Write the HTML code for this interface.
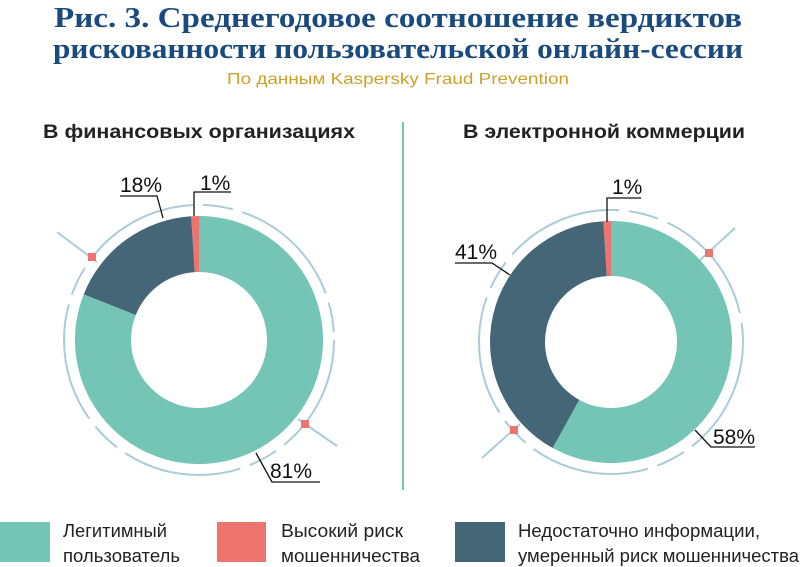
<!DOCTYPE html>
<html><head><meta charset="utf-8"><style>
html,body{margin:0;padding:0;background:#fff;width:800px;height:567px;overflow:hidden}
svg{display:block}
.t{font-family:"Liberation Serif",serif;font-weight:bold;fill:#1b4a7e;font-size:29px}
.n{font-family:"Liberation Sans Narrow","Liberation Sans",sans-serif}
</style></head><body>
<svg id="c" width="800" height="567" viewBox="0 0 800 567">
<text class="t" x="398" y="27" text-anchor="middle" textLength="688" lengthAdjust="spacingAndGlyphs">Рис. 3. Среднегодовое соотношение вердиктов</text>
<text class="t" x="398" y="58" text-anchor="middle" textLength="690" lengthAdjust="spacingAndGlyphs">рискованности пользовательской онлайн-сессии</text>
<text class="n" x="398" y="84" text-anchor="middle" font-size="16" fill="#c9a227" textLength="342" lengthAdjust="spacingAndGlyphs">По данным Kaspersky Fraud Prevention</text>
<text class="n" x="43" y="138" font-size="19" font-weight="bold" fill="#222" textLength="312" lengthAdjust="spacingAndGlyphs">В финансовых организациях</text>
<text class="n" x="463" y="138" font-size="19" font-weight="bold" fill="#222" textLength="282" lengthAdjust="spacingAndGlyphs">В электронной коммерции</text>
<line x1="403" y1="122" x2="403" y2="490" stroke="#3fb79a" stroke-width="1.5"/>
<g id="donuts"></g>
<g>
<rect x="0" y="522" width="50" height="40" fill="#75c5b7"/>
<text class="n" font-size="18" fill="#222"><tspan x="63" y="537" textLength="104" lengthAdjust="spacingAndGlyphs">Легитимный</tspan><tspan x="63" y="562" textLength="117" lengthAdjust="spacingAndGlyphs">пользователь</tspan></text>
<rect x="217" y="522" width="49" height="40" fill="#ef736f"/>
<text class="n" font-size="18" fill="#222"><tspan x="281" y="537" textLength="122" lengthAdjust="spacingAndGlyphs">Высокий риск</tspan><tspan x="281" y="562" textLength="139" lengthAdjust="spacingAndGlyphs">мошенничества</tspan></text>
<rect x="455" y="522" width="50" height="40" fill="#456677"/>
<text class="n" font-size="18" fill="#222"><tspan x="518" y="537" textLength="242" lengthAdjust="spacingAndGlyphs">Недостаточно информации,</tspan><tspan x="518" y="562" textLength="281" lengthAdjust="spacingAndGlyphs">умеренный риск мошенничества</tspan></text>
</g>
</svg>
<script>
// order clockwise from 12 o'clock: legit, insufficient, high-risk
const categories = ["legit", "insufficient", "high-risk"];
const financeValues = [81, 18, 1];
const ecommerceValues = [58, 41, 1];
const valueLabels = ["%"];
const colors = ["#75c5b7", "#456677", "#ef736f"];
const NS = "http://www.w3.org/2000/svg";
const g = document.getElementById("donuts");
function mk(tag, attrs) { const e = document.createElementNS(NS, tag); for (const k in attrs) e.setAttribute(k, attrs[k]); return e; }
function pt(cx, cy, r, a) { return [cx + r * Math.sin(a), cy - r * Math.cos(a)]; }
function arc(cx, cy, r0, r1, a0, a1) {
  const L = a1 - a0 > Math.PI ? 1 : 0;
  const p1 = pt(cx, cy, r1, a0), p2 = pt(cx, cy, r1, a1), p3 = pt(cx, cy, r0, a1), p4 = pt(cx, cy, r0, a0);
  return `M${p1}L${p1}A${r1},${r1} 0 ${L} 1 ${p2}L${p3}A${r0},${r0} 0 ${L} 0 ${p4}Z`;
}
function donut(name, values, cx, cy, r0, r1, ringR, deco, labels) {
  const grp = mk("g", {});
  
  
  g.appendChild(grp);
  const ring = mk("circle", { cx, cy, r: ringR, fill: "none", stroke: "#a9ccd9", "stroke-width": 2, "stroke-dasharray": "120 10 30 10" });
  
  
  grp.appendChild(ring);
  deco.forEach(d => {
    const ln = mk("line", { x1: d[0], y1: d[1], x2: d[2], y2: d[3], stroke: "#a9ccd9", "stroke-width": 2 });
    
    
    grp.appendChild(ln);
    const sq = mk("rect", { x: d[4] - 4, y: d[5] - 4, width: 8, height: 8, fill: "#ef736f" });
    
    
    grp.appendChild(sq);
  });
  const total = values.reduce((a, b) => a + b, 0);
  let acc = 0;
  values.forEach((v, i) => {
    const a0 = acc / total * 2 * Math.PI; acc += v;
    const a1 = acc / total * 2 * Math.PI;
    const p = mk("path", { d: arc(cx, cy, r0, r1, a0, a1), fill: colors[i] });
    
    
    grp.appendChild(p);
  });
  labels.forEach(l => {
    const i = l.i;
    const pl = mk("polyline", { points: l.pts, fill: "none", stroke: "#111", "stroke-width": 1.3 });
    
    
    grp.appendChild(pl);
    const t = mk("text", { x: l.x, y: l.y, "font-size": 21, fill: "#111", "font-family": "Liberation Sans Narrow, Liberation Sans, sans-serif" });
    t.textContent = values[i] + valueLabels[0];
    
    
    grp.appendChild(t);
  });
}
donut("donut-finance", financeValues, 199, 340, 68, 124, 135,
  [[57, 232, 97, 262, 92, 257], [298, 419, 337, 446, 305, 424]],
  [{ i: 1, x: 120, y: 192, pts: "120,196 157,196 163,218" },
   { i: 2, x: 200, y: 190, pts: "231,192 194,192 194,216" },
   { i: 0, x: 270, y: 478, pts: "320,482 272,482 256,453" }]);
donut("donut-ecommerce", ecommerceValues, 611, 342, 66, 121, 132,
  [[735, 228, 700, 260, 709, 253], [482, 458, 520, 424, 514, 430]],
  [{ i: 2, x: 612, y: 194, pts: "641,198 607,198 607,222" },
   { i: 1, x: 455, y: 259, pts: "455,263 492,263 510,275" },
   { i: 0, x: 713, y: 444, pts: "755,447 711,447 695,430" }]);
</script>
</body></html>
